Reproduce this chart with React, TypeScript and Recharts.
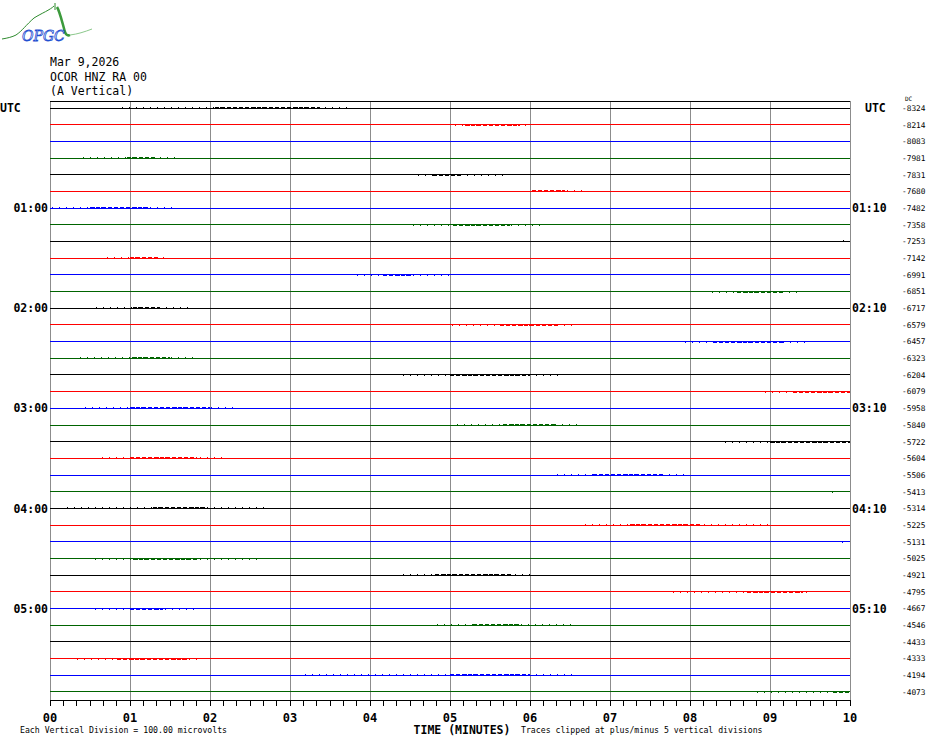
import React from "react";
import { LineChart, Line, XAxis, YAxis, ReferenceLine } from "recharts";

const MONO = '"DejaVu Sans Mono", "Liberation Mono", monospace';

// black, red, blue, green repeating per row
const TRACE_COLORS = ["#000000", "#ff0000", "#0000ff", "#006400"];

const DC_OFFSETS = [
  -8324, -8214, -8083, -7981, -7831, -7680, -7482, -7358, -7253, -7142, -6991, -6851,
  -6717, -6579, -6457, -6323, -6204, -6079, -5958, -5840, -5722, -5604, -5506, -5413,
  -5314, -5225, -5131, -5025, -4921, -4795, -4667, -4546, -4433, -4333, -4194, -4073,
];

const LEFT_HOURS = ["UTC", "01:00", "02:00", "03:00", "04:00", "05:00"];
const RIGHT_HOURS = ["UTC", "01:10", "02:10", "03:10", "04:10", "05:10"];
const ROWS_PER_HOUR = 6;

const MINUTES = [0, 1, 2, 3, 4, 5, 6, 7, 8, 9, 10];
const TICK_SECONDS = Array.from({ length: 61 }, (_, i) => i * 10);

// [row, sparse from, dense from, dense to, sparse to] in minutes
const BURSTS: [number, number, number | null, number | null, number][] = [
  [0, 0.9, 2.06, 3.38, 3.75],
  [1, 5.06, 5.19, 5.88, 6.0],
  [3, 0.41, 0.96, 1.34, 1.59],
  [4, 4.6, 4.79, 5.15, 5.68],
  [5, 6.03, 6.03, 6.44, 6.69],
  [6, 0.03, 0.5, 1.25, 1.56],
  [7, 4.54, 5.04, 5.75, 6.15],
  [8, 9.91, null, null, 9.98],
  [9, 0.71, 1.0, 1.38, 1.46],
  [10, 3.84, 4.16, 4.54, 5.04],
  [11, 8.28, 8.59, 9.16, 9.35],
  [12, 0.58, 1.04, 1.38, 1.79],
  [13, 5.03, 5.63, 6.38, 6.54],
  [14, 7.94, 8.29, 9.16, 9.48],
  [15, 0.38, 1.03, 1.5, 1.81],
  [16, 4.41, 5.0, 6.0, 6.38],
  [17, 8.94, 9.29, 10, 10],
  [18, 0.44, 1.0, 2.0, 2.35],
  [19, 5.09, 5.66, 6.34, 6.63],
  [20, 8.44, 9.0, 10, 10],
  [21, 0.65, 1.0, 1.84, 2.16],
  [22, 6.34, 6.79, 7.66, 8.0],
  [23, 9.78, null, null, 9.81],
  [24, 0.21, 1.29, 1.96, 2.73],
  [25, 6.69, 7.25, 8.13, 9.04],
  [26, 9.9, null, null, 9.98],
  [27, 0.56, 1.04, 1.84, 2.59],
  [28, 4.41, 4.81, 5.79, 6.03],
  [29, 7.79, 8.71, 9.41, 9.5],
  [30, 0.56, 1.0, 1.41, 1.88],
  [31, 4.84, 5.29, 5.9, 6.53],
  [33, 0.34, 0.84, 1.71, 1.9],
  [34, 3.19, 5.0, 6.0, 6.6],
  [35, 8.84, 9.79, 10, 10],
];

const ROWS = DC_OFFSETS.map((_, i) => i);
const HOUR_ROWS = LEFT_HOURS.map((_, i) => i * ROWS_PER_HOUR);
const Y_DOMAIN: [number, number] = [-0.42, 35.48];

const pad2 = (v: number) => String(v).padStart(2, "0");

function LeftTick(props: any) {
  const { x, y, payload } = props;
  const label = LEFT_HOURS[Math.round(payload.value / ROWS_PER_HOUR)];
  const utc = label === "UTC";
  return (
    <text x={utc ? 0 : x} y={y} dy="0.36em" textAnchor={utc ? "start" : "end"}
      fontFamily={MONO} fontWeight="bold" fontSize={11.5} fill="#000">
      {label}
    </text>
  );
}

function RightHourTick(props: any) {
  const { x, y, payload } = props;
  const label = RIGHT_HOURS[Math.round(payload.value / ROWS_PER_HOUR)];
  return (
    <text x={label === "UTC" ? x + 13 : x} y={y} dy="0.36em" textAnchor="start"
      fontFamily={MONO} fontWeight="bold" fontSize={11.5} fill="#000">
      {label}
    </text>
  );
}

function DcTick(props: any) {
  const { x, y, payload } = props;
  return (
    <text x={x} y={y} dy="0.36em" textAnchor="start" fontFamily={MONO} fontSize={7.8} fill="#000">
      {String(DC_OFFSETS[payload.value]).replace("-", "\u2010")}
    </text>
  );
}

export default function App() {
  return (
    <div style={{ position: "absolute", left: 0, top: 0, width: 930, height: 744, background: "#fff" }}>
      <style>{`.heli path, .heli line { shape-rendering: crispEdges; }`}</style>
      <LineChart width={930} height={744} margin={{ top: 101, right: 0, bottom: 0, left: 0 }} className="heli">
        <XAxis
          type="number"
          dataKey="t"
          domain={[0, 10]}
          allowDataOverflow
          ticks={TICK_SECONDS.map((s) => s / 60)}
          interval={0}
          height={44}
          tickSize={6}
          tickMargin={7}
          stroke="#000"
          tickFormatter={(v: number) => (Number.isInteger(v) ? pad2(v) : "")}
          tick={{ fontFamily: MONO, fontWeight: "bold", fontSize: 12, fill: "#000" }}
          label={{
            value: "TIME (MINUTES)",
            position: "insideBottom",
            offset: 10,
            dx: 12,
            fontFamily: MONO,
            fontWeight: "bold",
            fontSize: 11.5,
            fill: "#000",
          }}
        />
        <YAxis yAxisId="a_rows" orientation="left" width={50} type="number" domain={Y_DOMAIN}
          reversed allowDataOverflow ticks={HOUR_ROWS} interval={0} axisLine={false}
          tickLine={false} tickSize={0} tickMargin={2} tick={(p: any) => <LeftTick {...p} />} />
        <YAxis yAxisId="b_hours" orientation="right" width={50} type="number" domain={Y_DOMAIN}
          reversed allowDataOverflow ticks={HOUR_ROWS} interval={0} axisLine={false}
          tickLine={false} tickSize={0} tickMargin={2} tick={(p: any) => <RightHourTick {...p} />} />
        <YAxis yAxisId="c_dc" orientation="right" width={30} type="number" domain={Y_DOMAIN}
          reversed allowDataOverflow ticks={ROWS} interval={0} axisLine={false}
          tickLine={false} tickSize={0} tickMargin={2} tick={(p: any) => <DcTick {...p} />} />

        {MINUTES.map((m) => (
          <ReferenceLine key={`g${m}`} yAxisId="a_rows" x={m} stroke="#8c8c8c" strokeWidth={1} />
        ))}
        <ReferenceLine yAxisId="a_rows" y={Y_DOMAIN[0]} stroke="#000" strokeWidth={1} />

        {ROWS.map((r) => (
          <Line key={`b${r}`} yAxisId="a_rows" data={[{ t: 0, v: r }, { t: 10, v: r }]} dataKey="v"
            type="linear" stroke={TRACE_COLORS[r % 4]} strokeWidth={1} dot={false}
            activeDot={false} isAnimationActive={false} />
        ))}
        {BURSTS.map(([r, s0, , , s1]) => (
          <Line key={`s${r}`} yAxisId="a_rows" data={[{ t: s0, v: r }, { t: s1, v: r }]} dataKey="v"
            type="linear" stroke={TRACE_COLORS[r % 4]} strokeWidth={2} strokeDasharray="1 6"
            dot={false} activeDot={false} isAnimationActive={false} />
        ))}
        {BURSTS.filter((b) => b[2] !== null).map(([r, , d0, d1]) => (
          <Line key={`d${r}`} yAxisId="a_rows" data={[{ t: d0, v: r }, { t: d1, v: r }]} dataKey="v"
            type="linear" stroke={TRACE_COLORS[r % 4]} strokeWidth={2} strokeDasharray="4 2"
            dot={false} activeDot={false} isAnimationActive={false} />
        ))}
      </LineChart>

      <svg width={930} height={744} style={{ position: "absolute", left: 0, top: 0, pointerEvents: "none" }}>
        <path d="M2,39 C8,38 12,37 16,35 C22,31 26,25 34,18 C42,13 50,10 54,6" fill="none" stroke="#2e8b2e" strokeWidth={1} />
        <path d="M55,3 L55,10" stroke="#2e8b2e" strokeWidth={1} />
        <path d="M57,7 C60,12 62,22 65,32 C66,35 68,36 70,35" fill="none" stroke="#3c9a3c" strokeWidth={2.5} />
        <path d="M70,35 C78,34 84,32 92,29" fill="none" stroke="#8cc88c" strokeWidth={1} />
        <text x={22} y={41} fontFamily='"DejaVu Serif", serif' fontStyle="italic" fontSize={14}
          fill="none" stroke="#1f4fd1" strokeWidth={0.8}>OPGC</text>

        <g fontFamily={MONO} fontSize={11.5} fill="#000">
          <text x={50} y={66}>Mar 9,2026</text>
          <text x={50} y={81}>OCOR HNZ RA 00</text>
          <text x={50} y={95}>(A Vertical)</text>
        </g>
        <text x={905} y={101} fontFamily={MONO} fontSize={6} fill="#000">DC</text>
        <g fontFamily={MONO} fontSize={8.2} fill="#000">
          <text x={20} y={733}>Each Vertical Division =  100.00 microvolts</text>
          <text x={521} y={733}>Traces clipped at plus/minus 5 vertical divisions</text>
        </g>
      </svg>
    </div>
  );
}
